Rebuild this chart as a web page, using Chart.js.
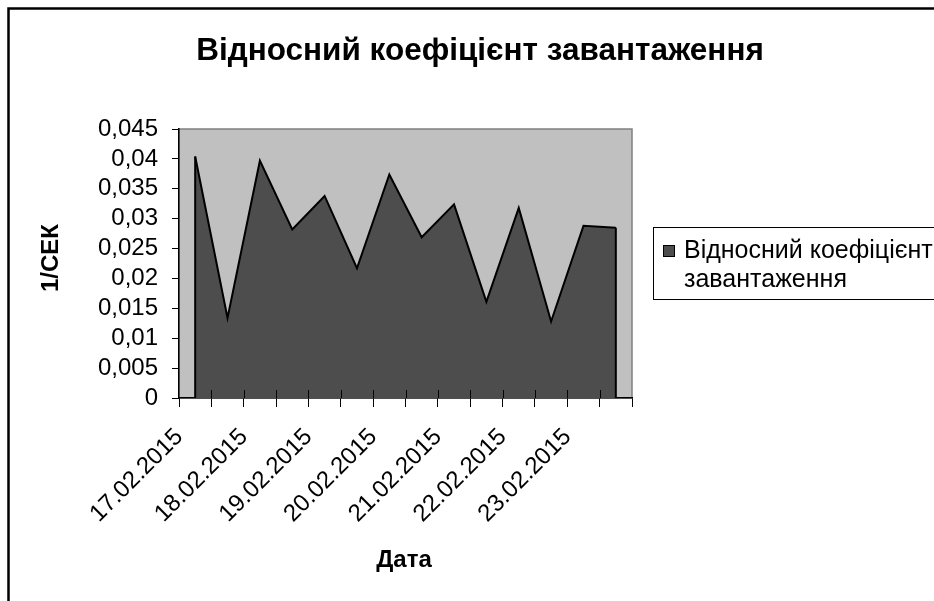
<!DOCTYPE html>
<html>
<head>
<meta charset="utf-8">
<script src="https://cdn.jsdelivr.net/npm/chart.js@4.4.1/dist/chart.umd.min.js"></script>
<style>
  html, body { margin: 0; padding: 0; background: #ffffff; }
  #wrap { position: relative; width: 934px; height: 601px; overflow: hidden; }
</style>
</head>
<body>
<div id="wrap"><canvas id="c" width="934" height="601"></canvas></div>
<script>
// ---- data ----
const categories = [
  "17.02.2015", "17.02.2015",
  "18.02.2015", "18.02.2015",
  "19.02.2015", "19.02.2015",
  "20.02.2015", "20.02.2015",
  "21.02.2015", "21.02.2015",
  "22.02.2015", "22.02.2015",
  "23.02.2015", "23.02.2015"
];
const seriesName = "Відносний коефіцієнт завантаження";
const seriesValues = [
  0.0404, 0.0134, 0.0397, 0.0282, 0.0338, 0.0217, 0.0374,
  0.0269, 0.0324, 0.0161, 0.0318, 0.0128, 0.0288, 0.0285
];
const yTicks = [0, 0.005, 0.01, 0.015, 0.02, 0.025, 0.03, 0.035, 0.04, 0.045];
const chartTitle = "Відносний коефіцієнт завантаження";
const xTitle = "Дата";
const yTitle = "1/СЕК";
const legendLines = ["Відносний коефіцієнт", "завантаження"];

const FONT = "'Liberation Sans', Arial, sans-serif";
const AREA_FILL = "#4d4d4d";
const PLOT_BG = "#c0c0c0";

function fmt(v) {
  return parseFloat(v.toFixed(3)).toString().replace('.', ',');
}

const decorPlugin = {
  id: 'decor',
  beforeDraw(chart) {
    const ctx = chart.ctx;
    const a = chart.chartArea;
    ctx.save();
    ctx.fillStyle = '#ffffff';
    ctx.fillRect(0, 0, chart.width, chart.height);
    ctx.fillStyle = PLOT_BG;
    ctx.fillRect(a.left, a.top, a.right - a.left, a.bottom - a.top);
    ctx.strokeStyle = '#808080';
    ctx.lineWidth = 1.5;
    ctx.strokeRect(a.left, a.top, a.right - a.left, a.bottom - a.top);
    ctx.restore();
  },
  afterDatasetsDraw(chart) {
    const ctx = chart.ctx;
    const meta = chart.getDatasetMeta(0);
    const ys = chart.scales.y;
    const base = ys.getPixelForValue(0);
    const pts = meta.data;
    ctx.save();
    ctx.strokeStyle = '#000000';
    ctx.lineWidth = 2;
    [pts[0], pts[pts.length - 1]].forEach(p => {
      ctx.beginPath();
      ctx.moveTo(p.x, p.y);
      ctx.lineTo(p.x, base);
      ctx.stroke();
    });
    ctx.restore();
  },
  afterDraw(chart) {
    const ctx = chart.ctx;
    const a = chart.chartArea;
    const xs = chart.scales.x;
    ctx.save();
    const half = (xs.getPixelForValue(1) - xs.getPixelForValue(0)) / 2;
    ctx.strokeStyle = '#000000';
    ctx.lineWidth = 1;
    for (let i = 1; i < categories.length; i++) {
      const x = Math.round(xs.getPixelForValue(i) - half) + 0.5;
      ctx.beginPath();
      ctx.moveTo(x, a.bottom - 8);
      ctx.lineTo(x, a.bottom);
      ctx.stroke();
    }
    ctx.fillStyle = '#000000';
    ctx.textAlign = 'center';
    ctx.textBaseline = 'middle';
    ctx.font = "bold 31.5px " + FONT;
    ctx.fillText(chartTitle, 480, 51);
    ctx.font = "bold 24px " + FONT;
    ctx.fillText(xTitle, 404, 560);
    ctx.save();
    ctx.translate(51, 258);
    ctx.rotate(-Math.PI / 2);
    ctx.fillText(yTitle, 0, 0);
    ctx.restore();
    // legend
    ctx.fillStyle = '#ffffff';
    ctx.fillRect(653.5, 227.5, 400, 72);
    ctx.strokeStyle = '#000000';
    ctx.lineWidth = 1;
    ctx.strokeRect(653.5, 227.5, 400, 72);
    ctx.fillStyle = AREA_FILL;
    ctx.fillRect(663.5, 245.5, 11, 11);
    ctx.strokeRect(663.5, 245.5, 11, 11);
    ctx.fillStyle = '#000000';
    ctx.textAlign = 'left';
    ctx.font = "25px " + FONT;
    ctx.fillText(legendLines[0], 684, 251);
    ctx.fillText(legendLines[1], 684, 280);
    // outer frame
    ctx.strokeStyle = '#000000';
    ctx.lineWidth = 2.5;
    ctx.beginPath();
    ctx.moveTo(8.5, 620);
    ctx.lineTo(8.5, 8.5);
    ctx.lineTo(960, 8.5);
    ctx.stroke();
    ctx.restore();
  }
};

new Chart(document.getElementById('c'), {
  type: 'line',
  data: {
    labels: categories,
    datasets: [{
      label: seriesName,
      data: seriesValues,
      borderColor: '#000000',
      borderWidth: 2,
      backgroundColor: AREA_FILL,
      fill: 'origin',
      tension: 0,
      pointRadius: 0,
      pointHoverRadius: 0
    }]
  },
  options: {
    responsive: false,
    animation: false,
    devicePixelRatio: 1,
    layout: { padding: { left: 0, top: 129, right: 302, bottom: 0 } },
    plugins: {
      legend: { display: false },
      title: { display: false },
      tooltip: { enabled: false }
    },
    scales: {
      x: {
        type: 'category',
        offset: true,
        z: 1,
        afterFit(scale) { scale.height = 203; },
        grid: {
          offset: true,
          drawOnChartArea: false,
          drawTicks: true,
          tickLength: 9,
          color: '#000000',
          lineWidth: 1
        },
        border: { display: true, color: '#000000', width: 1.5 },
        ticks: {
          autoSkip: false,
          minRotation: 45,
          maxRotation: 45,
          labelOffset: -16,
          padding: 16,
          color: '#000000',
          font: { family: FONT, size: 24 },
          callback(value, index) {
            return index % 2 === 0 ? categories[index] : '';
          }
        }
      },
      y: {
        min: 0,
        max: 0.045,
        z: 1,
        afterFit(scale) { scale.width = 179; },
        afterBuildTicks(scale) {
          scale.ticks = yTicks.map(v => ({ value: v }));
        },
        grid: {
          drawOnChartArea: false,
          drawTicks: true,
          tickLength: 7,
          color: '#000000',
          lineWidth: 1
        },
        border: { display: true, color: '#000000', width: 1.5 },
        ticks: {
          autoSkip: false,
          padding: 14,
          color: '#000000',
          font: { family: FONT, size: 24 },
          callback(value) { return fmt(value); }
        }
      }
    }
  },
  plugins: [decorPlugin]
});
</script>
</body>
</html>
